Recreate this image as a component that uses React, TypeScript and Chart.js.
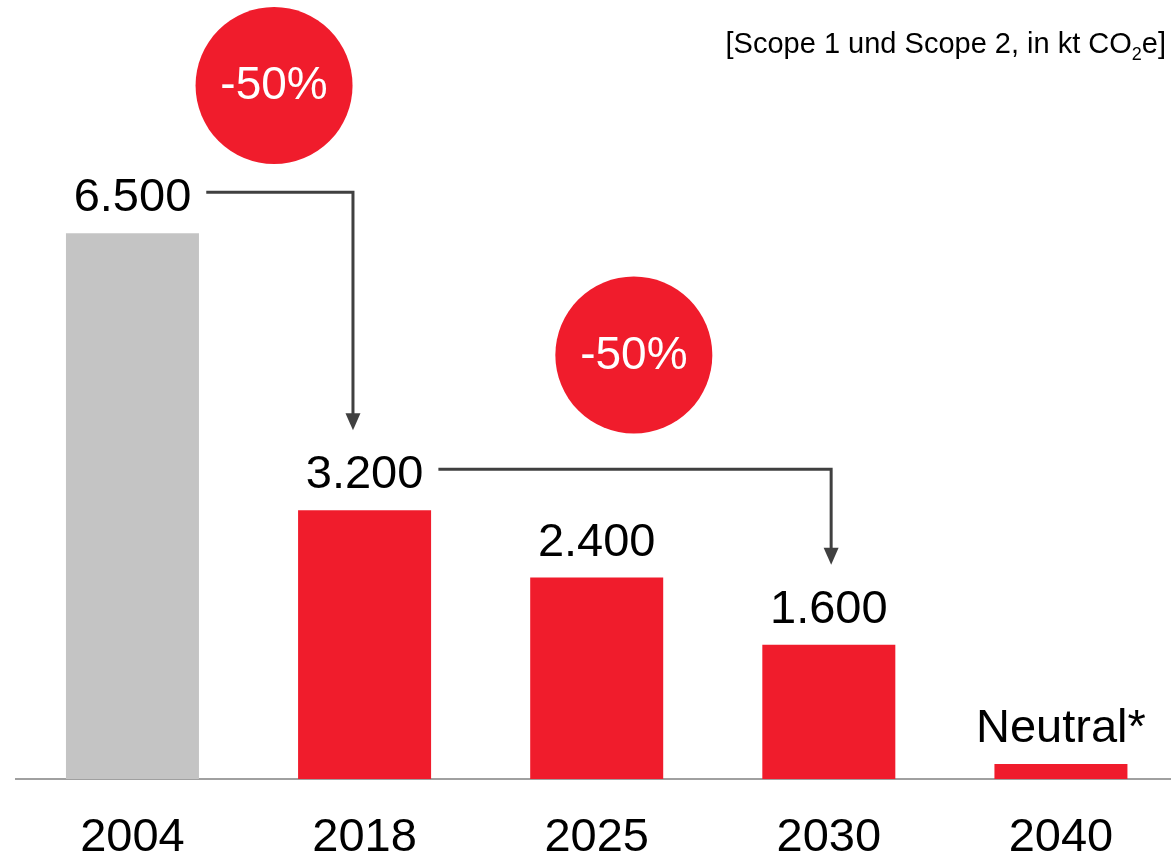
import React, { useEffect, useRef } from 'react';
import { Chart, registerables } from 'chart.js';

Chart.register(...registerables);

const categories = ['2004', '2018', '2025', '2030', '2040'];
const values = [6500, 3200, 2400, 1600, 180];
const valueLabels = ['6.500', '3.200', '2.400', '1.600', 'Neutral*'];
const barColors = ['#C4C4C4', '#F01C2C', '#F01C2C', '#F01C2C', '#F01C2C'];
const reductionLabels = ['-50%', '-50%'];
const reductionIndex = [0.61, 2.16];
const reductionValue = [8260, 5050];
const arrowFromBar = [0, 1];
const arrowToBar = [1, 3];
const arrowTurnIndex = [0.95, 3.01];
const unitTitle = ['[Scope 1 und Scope 2, in kt CO', '2', 'e]'];

const FONT = 'Arial, "Liberation Sans", sans-serif';

const annotationPlugin = {
  id: 'annotations',
  afterDatasetsDraw(chart: any) {
    const { ctx, scales, chartArea } = chart;
    const x = scales.x;
    const y = scales.y;
    const meta = chart.getDatasetMeta(0);
    ctx.save();

    // value labels
    ctx.font = `47px ${FONT}`;
    ctx.fillStyle = '#000000';
    ctx.textAlign = 'center';
    ctx.textBaseline = 'alphabetic';
    meta.data.forEach((el: any, i: number) => {
      ctx.fillText(valueLabels[i], el.x, el.y - 22);
    });

    // arrows
    ctx.strokeStyle = '#404040';
    ctx.fillStyle = '#404040';
    ctx.lineWidth = 3;
    arrowFromBar.forEach((from, i) => {
      const fromEl = meta.data[from];
      const toEl = meta.data[arrowToBar[i]];
      ctx.font = `47px ${FONT}`;
      const w = ctx.measureText(valueLabels[from]).width;
      const sx = fromEl.x + w / 2 + 15;
      const ly = fromEl.y - 22 - 19;
      const vx = x.getPixelForValue(arrowTurnIndex[i]);
      const tipY = toEl.y - 80;
      const headH = 17;
      const headW = 15;
      ctx.beginPath();
      ctx.moveTo(sx, ly);
      ctx.lineTo(vx, ly);
      ctx.lineTo(vx, tipY - headH + 1);
      ctx.stroke();
      ctx.beginPath();
      ctx.moveTo(vx - headW / 2, tipY - headH);
      ctx.lineTo(vx + headW / 2, tipY - headH);
      ctx.lineTo(vx, tipY);
      ctx.closePath();
      ctx.fill();
    });

    // reduction circles
    reductionLabels.forEach((lab, i) => {
      const cx = x.getPixelForValue(reductionIndex[i]);
      const cy = y.getPixelForValue(reductionValue[i]);
      ctx.beginPath();
      ctx.arc(cx, cy, 78.5, 0, Math.PI * 2);
      ctx.fillStyle = '#F01C2C';
      ctx.fill();
      ctx.fillStyle = '#FFFFFF';
      ctx.font = `46px ${FONT}`;
      ctx.textAlign = 'center';
      ctx.textBaseline = 'middle';
      ctx.fillText(lab, cx, cy + 1);
    });

    // unit title
    ctx.fillStyle = '#000000';
    ctx.textAlign = 'left';
    ctx.textBaseline = 'alphabetic';
    const big = `29px ${FONT}`;
    const small = `18px ${FONT}`;
    ctx.font = big;
    const w1 = ctx.measureText(unitTitle[0]).width;
    const w3 = ctx.measureText(unitTitle[2]).width;
    ctx.font = small;
    const w2 = ctx.measureText(unitTitle[1]).width;
    const right = chartArea.right - 11;
    const by = 53;
    let tx = right - (w1 + w2 + w3);
    ctx.font = big;
    ctx.fillText(unitTitle[0], tx, by);
    tx += w1;
    ctx.font = small;
    ctx.fillText(unitTitle[1], tx, by + 7);
    tx += w2;
    ctx.font = big;
    ctx.fillText(unitTitle[2], tx, by);

    ctx.restore();
  },
};

export default function App() {
  const canvasRef = useRef<HTMLCanvasElement | null>(null);

  useEffect(() => {
    if (!canvasRef.current) return;
    const chart = new Chart(canvasRef.current, {
      type: 'bar',
      data: {
        labels: categories,
        datasets: [
          {
            data: values,
            backgroundColor: barColors,
            borderWidth: 0,
            barPercentage: 0.573,
            categoryPercentage: 1,
          },
        ],
      },
      options: {
        animation: false,
        responsive: true,
        maintainAspectRatio: false,
        layout: { padding: { left: 16.4, right: 23, top: 23.4, bottom: 4.6 } },
        plugins: {
          legend: { display: false },
          tooltip: { enabled: false },
          title: { display: false },
        },
        scales: {
          x: {
            grid: { display: false, drawTicks: false },
            border: { display: true, color: '#A0A0A0', width: 2 },
            ticks: {
              color: '#000000',
              font: { family: FONT, size: 47 },
              padding: 31,
            },
          },
          y: {
            display: false,
            min: 0,
            max: 9000,
          },
        },
      },
      plugins: [annotationPlugin],
    });
    return () => chart.destroy();
  }, []);

  return (
    <div style={{ position: 'fixed', left: 0, top: 0, width: 1200, height: 902, background: '#FFFFFF' }}>
      <canvas ref={canvasRef} />
    </div>
  );
}
